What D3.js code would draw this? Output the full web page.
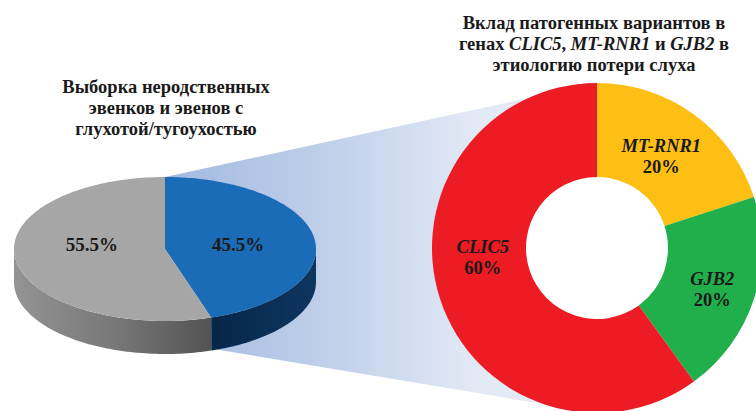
<!DOCTYPE html>
<html>
<head>
<meta charset="utf-8">
<script src="https://cdn.jsdelivr.net/npm/d3@7"></script>
<style>
  html, body { margin: 0; padding: 0; background: #ffffff; }
  svg { display: block; }
  text { font-family: "Liberation Serif", "Times New Roman", serif; font-weight: bold; fill: #1a1a1a; }
</style>
</head>
<body>
<svg id="chart" width="756" height="411"></svg>
<script>
// Sample split (left 3D pie)
const sampleGroups = ["Без выявленных вариантов", "С выявленными вариантами"];
const sampleValues = [55.5, 45.5];
const sampleLabels = ["55.5%", "45.5%"];

// Gene contribution (right donut), clockwise from 12 o'clock
const genes = ["MT-RNR1", "GJB2", "CLIC5"];
const geneValues = [20, 20, 60];
const geneLabels = ["20%", "20%", "60%"];

const leftTitle = ["Выборка неродственных", "эвенков и эвенов с", "глухотой/тугоухостью"];

const svg = d3.select("#chart");
const defs = svg.append("defs");

// ---------- layout ----------
const pie3d = { cx: 165, cy: 249, rx: 151, ry: 72, depth: 33 };
const donut = { cx: 597, cy: 248, inner: 71, outer: 165 };

// ---------- gradients ----------
const bandGrad = defs.append("linearGradient")
  .attr("id", "bandGrad").attr("gradientUnits", "userSpaceOnUse")
  .attr("x1", 180).attr("y1", 0).attr("x2", 480).attr("y2", 0);
bandGrad.append("stop").attr("offset", 0).attr("stop-color", "#a4bbe0");
bandGrad.append("stop").attr("offset", 0.55).attr("stop-color", "#c3d2eb");
bandGrad.append("stop").attr("offset", 1).attr("stop-color", "#e3eaf6");

const greySide = defs.append("linearGradient")
  .attr("id", "greySide").attr("gradientUnits", "userSpaceOnUse")
  .attr("x1", pie3d.cx - pie3d.rx).attr("y1", 0).attr("x2", 225).attr("y2", 0);
greySide.append("stop").attr("offset", 0).attr("stop-color", "#949494");
greySide.append("stop").attr("offset", 0.5).attr("stop-color", "#767676");
greySide.append("stop").attr("offset", 1).attr("stop-color", "#4e4e4e");

const blueSide = defs.append("linearGradient")
  .attr("id", "blueSide").attr("gradientUnits", "userSpaceOnUse")
  .attr("x1", 215).attr("y1", 0).attr("x2", pie3d.cx + pie3d.rx).attr("y2", 0);
blueSide.append("stop").attr("offset", 0).attr("stop-color", "#07274a");
blueSide.append("stop").attr("offset", 1).attr("stop-color", "#0e3560");

// ---------- zoom band linking the pie to the donut ----------
svg.append("path")
  .attr("d", d3.line()([
    [pie3d.cx, pie3d.cy - pie3d.ry],
    [donut.cx, donut.cy - donut.outer],
    [donut.cx, donut.cy + donut.outer],
    [218, pie3d.cy + pie3d.ry * 0.94 + pie3d.depth]
  ]) + "Z")
  .attr("fill", "url(#bandGrad)");

// ---------- left 3D pie ----------
const pieL = d3.pie().sort(null).value(d => d)
  .startAngle(0).endAngle(2 * Math.PI);
// order: blue slice first from 12 o'clock, then grey
const leftArcs = pieL([sampleValues[1], sampleValues[0]]);
const leftFill = ["#1a6cb6", "#a6a6a6"];
const leftSide = ["url(#blueSide)", "url(#greySide)"];
const leftText = [sampleLabels[1], sampleLabels[0]];

const ex = a => pie3d.cx + pie3d.rx * Math.sin(a);
const ey = a => pie3d.cy - pie3d.ry * Math.cos(a);
const sampleArc = (a0, a1, n) => d3.range(n + 1).map(i => a0 + (a1 - a0) * i / n);
const lineGen = d3.line();

// side walls: only the front half (angles between pi/2 and 3pi/2) is visible
leftArcs.forEach((d, i) => {
  const a0 = Math.max(d.startAngle, Math.PI / 2);
  const a1 = Math.min(d.endAngle, 3 * Math.PI / 2);
  if (a1 <= a0) return;
  const angs = sampleArc(a0, a1, 80);
  const top = angs.map(a => [ex(a), ey(a)]);
  const bottom = angs.slice().reverse().map(a => [ex(a), ey(a) + pie3d.depth]);
  svg.append("path")
    .attr("d", lineGen(top.concat(bottom)) + "Z")
    .attr("fill", leftSide[i]);
});

// top faces
leftArcs.forEach((d, i) => {
  const angs = sampleArc(d.startAngle, d.endAngle, 160);
  const pts = [[pie3d.cx, pie3d.cy]].concat(angs.map(a => [ex(a), ey(a)]));
  svg.append("path")
    .attr("d", lineGen(pts) + "Z")
    .attr("fill", leftFill[i]);
});

leftArcs.forEach((d, i) => {
  const mid = (d.startAngle + d.endAngle) / 2;
  svg.append("text")
    .attr("x", pie3d.cx + pie3d.rx * 0.49 * Math.sin(mid))
    .attr("y", pie3d.cy + 2)
    .attr("text-anchor", "middle")
    .attr("font-size", 19)
    .text(leftText[i]);
});

// left title
svg.append("text")
  .attr("text-anchor", "middle")
  .attr("font-size", 18.5)
  .selectAll("tspan").data(leftTitle).join("tspan")
  .attr("x", 166)
  .attr("y", (d, i) => 93 + i * 20.8)
  .text(d => d);

// ---------- right donut ----------
const pieR = d3.pie().sort(null).value(d => d);
const donutArcs = pieR(geneValues);
const donutColor = d3.scaleOrdinal().domain(genes).range(["#fdbf14", "#21af4b", "#ed1c24"]);
const arcGen = d3.arc().innerRadius(donut.inner).outerRadius(donut.outer);

const gD = svg.append("g").attr("transform", `translate(${donut.cx},${donut.cy})`);
// white hole so the band does not show through the ring
gD.append("circle").attr("r", donut.inner + 1).attr("fill", "#ffffff");
gD.selectAll("path").data(donutArcs).join("path")
  .attr("d", arcGen)
  .attr("fill", (d, i) => donutColor(genes[i]));

// label nudges (px) relative to each slice centroid
const labelNudge = [[-5, 3], [3, 5], [-2, -27]];
const lbl = gD.selectAll("g.lbl").data(donutArcs).join("g").attr("class", "lbl")
  .attr("transform", (d, i) => {
    const c = arcGen.centroid(d);
    return `translate(${c[0] + labelNudge[i][0]},${c[1] + labelNudge[i][1]})`;
  });
lbl.append("text")
  .attr("text-anchor", "middle").attr("font-size", 18.5).attr("font-style", "italic")
  .attr("y", -4)
  .text((d, i) => genes[i]);
lbl.append("text")
  .attr("text-anchor", "middle").attr("font-size", 18.5)
  .attr("y", 17)
  .text((d, i) => geneLabels[i]);

// right title with italic gene names
const rt = svg.append("text").attr("text-anchor", "middle").attr("font-size", 18.5);
rt.append("tspan").attr("x", 594).attr("y", 29).text("Вклад патогенных вариантов в");
const l2 = [["генах ", false], ["CLIC5", true], [", ", false], ["MT-RNR1", true],
            [" и ", false], ["GJB2", true], [" в", false]];
l2.forEach((p, i) => {
  const t = rt.append("tspan").attr("font-style", p[1] ? "italic" : "normal").text(p[0]);
  if (i === 0) t.attr("x", 594).attr("y", 50);
});
rt.append("tspan").attr("x", 594).attr("y", 71).text("этиологию потери слуха");
</script>
</body>
</html>
